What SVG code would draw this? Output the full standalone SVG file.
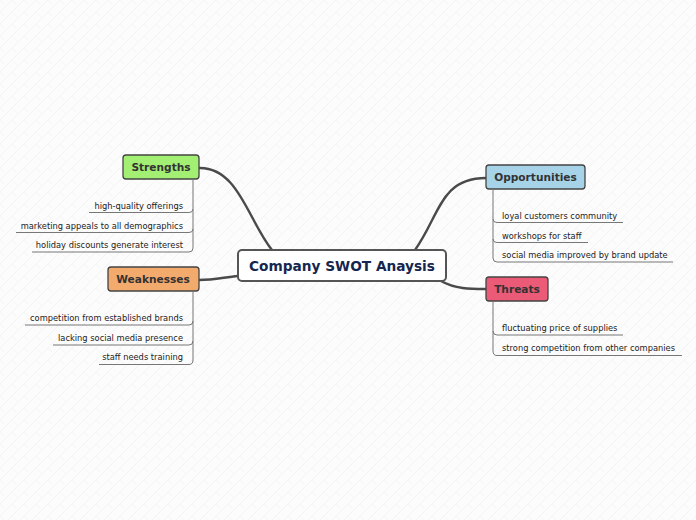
<svg xmlns="http://www.w3.org/2000/svg" width="696" height="520" viewBox="0 0 696 520">
<defs>
<pattern id="bg" width="12" height="12" patternUnits="userSpaceOnUse">
<rect width="12" height="12" fill="#fcfcfc"/>
<path d="M0,12 L12,0 M-3,3 L3,-3 M9,15 L15,9" stroke="#f3f3f3" stroke-width="1"/>
<path d="M0,0 L5,5" stroke="#f5f5f5" stroke-width="1"/>
</pattern>
</defs>
<style>
.topic{stroke:#444;stroke-width:1.3}
.tt{font-family:"DejaVu Sans",Verdana,sans-serif;font-size:10.6px;font-weight:bold;fill:#333}
.sub{font-family:"DejaVu Sans",Verdana,sans-serif;font-size:8.3px;fill:#222}
.br{fill:none;stroke:#777;stroke-width:1}
.conn{fill:none;stroke:#4a4a4a;stroke-width:2.4;stroke-linecap:round}
</style>
<rect width="696" height="520" fill="url(#bg)"/>
<g id="connectors">
<path class="conn" d="M199,168 C238,167 248,220 272,250"/>
<path class="conn" d="M199,280 C215,280 225,277 238,276"/>
<path class="conn" d="M415,250 C440,215 440,178 486,178"/>
<path class="conn" d="M441,281 C455,289 470,289 486,289"/>
</g>
<g id="center">
<rect x="238" y="250" width="208" height="31" rx="4" fill="#fff" stroke="#555" stroke-width="2"/>
<text x="342" y="271" text-anchor="middle" font-family="'DejaVu Sans',Verdana,sans-serif" font-size="13.7px" font-weight="bold" fill="#15264f">Company SWOT Anaysis</text>
</g>
<g id="strengths">
<rect class="topic" x="123" y="155" width="76" height="24" rx="3" fill="#a3ef73"/>
<text class="tt" x="161" y="171" text-anchor="middle">Strengths</text>
<path class="br" d="M193,179 V209 Q193,212.5 189,212.5 H89"/>
<path class="br" d="M193,209 V229 Q193,232.5 189,232.5 H16"/>
<path class="br" d="M193,229 V248 Q193,252 189,252 H32"/>
<text class="sub" x="183" y="209" text-anchor="end">high-quality offerings</text>
<text class="sub" x="183" y="229" text-anchor="end">marketing appeals to all demographics</text>
<text class="sub" x="183" y="248" text-anchor="end">holiday discounts generate interest</text>
</g>
<g id="weaknesses">
<rect class="topic" x="108" y="267" width="91" height="24" rx="3" fill="#f3aa6d"/>
<text class="tt" x="153" y="283" text-anchor="middle">Weaknesses</text>
<path class="br" d="M193,291 V321 Q193,325 189,325 H25"/>
<path class="br" d="M193,321 V341 Q193,345 189,345 H53"/>
<path class="br" d="M193,341 V360 Q193,364.5 189,364.5 H99"/>
<text class="sub" x="183" y="321" text-anchor="end">competition from established brands</text>
<text class="sub" x="183" y="341" text-anchor="end">lacking social media presence</text>
<text class="sub" x="183" y="360" text-anchor="end">staff needs training</text>
</g>
<g id="opportunities">
<rect class="topic" x="486" y="165" width="99" height="24" rx="3" fill="#a7d3e8"/>
<text class="tt" x="535.5" y="181" text-anchor="middle">Opportunities</text>
<path class="br" d="M493,189 V219 Q493,222.5 497,222.5 H623"/>
<path class="br" d="M493,219 V239 Q493,242.5 497,242.5 H588"/>
<path class="br" d="M493,239 V258 Q493,262 497,262 H673"/>
<text class="sub" x="502" y="219">loyal customers community</text>
<text class="sub" x="502" y="239">workshops for staff</text>
<text class="sub" x="502" y="258">social media improved by brand update</text>
</g>
<g id="threats">
<rect class="topic" x="486" y="277" width="62" height="24" rx="3" fill="#eb5a76"/>
<text class="tt" x="517" y="293" text-anchor="middle">Threats</text>
<path class="br" d="M493,301 V331 Q493,335 497,335 H623"/>
<path class="br" d="M493,331 V351 Q493,355.5 497,355.5 H682"/>
<text class="sub" x="502" y="331">fluctuating price of supplies</text>
<text class="sub" x="502" y="351">strong competition from other companies</text>
</g>
</svg>
